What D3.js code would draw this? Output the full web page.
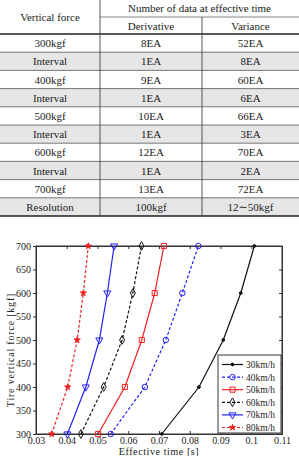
<!DOCTYPE html>
<html>
<head>
<meta charset="utf-8">
<script src="https://cdn.jsdelivr.net/npm/d3@7"></script>
<style>
  body { margin: 0; background: #fff; }
</style>
</head>
<body>
<svg id="graf1"></svg>
<script>
// table data
let filas = ['300kgf', 'Interval', '400kgf', 'Interval', '500kgf', 'Interval', '600kgf', 'Interval', '700kgf', 'Resolution']
let derivada = ['8EA', '1EA', '9EA', '1EA', '10EA', '1EA', '12EA', '1EA', '13EA', '100kgf']
let varianza = ['52EA', '8EA', '60EA', '6EA', '66EA', '3EA', '70EA', '2EA', '72EA', '12\u223C50kgf']

// chart data
let fuerzas = [300, 400, 500, 600, 700]
let t30 = [0.0709, 0.0830, 0.0909, 0.0966, 0.1010]
let t40 = [0.0543, 0.0654, 0.0722, 0.0776, 0.0828]
let t50 = [0.0502, 0.0589, 0.0644, 0.0686, 0.0716]
let t60 = [0.0446, 0.0520, 0.0580, 0.0615, 0.0643]
let t70 = [0.0402, 0.0462, 0.0506, 0.0532, 0.0554]
let t80 = [0.0351, 0.0403, 0.0434, 0.0454, 0.0470]
let velocidades = ['30km/h', '40km/h', '50km/h', '60km/h', '70km/h', '80km/h']
let xTicks = [0.03, 0.04, 0.05, 0.06, 0.07, 0.08, 0.09, 0.1, 0.11]
let yTicks = [300, 350, 400, 450, 500, 550, 600, 650, 700]

let fuente = "'Liberation Serif', 'DejaVu Serif', 'Times New Roman', serif"

function graficar() {
  let width = 299
  let height = 456
  let svg = d3.select('#graf1')
            .attr('width', width)
            .attr('height', height)
            .attr('font-family', fuente)

  // ---------- table ----------
  let tabla = svg.append('g')
  let colX = [0, 100, 202, 299]
  let filaY = d3.scaleBand()
                .domain(d3.range(filas.length))
                .range([34, 216])

  tabla.selectAll('rect.fondo')
    .data(filas)
    .enter().append('rect')
    .attr('x', 0)
    .attr('y', (d, i) => filaY(i))
    .attr('width', width)
    .attr('height', filaY.bandwidth())
    .attr('fill', (d) => d == 'Interval' || d == 'Resolution' ? '#e6e6e6' : '#fff')

  // row separators
  tabla.selectAll('line.fila')
    .data(d3.range(1, filas.length))
    .enter().append('line')
    .attr('x1', 0).attr('x2', width)
    .attr('y1', (i) => filaY(i)).attr('y2', (i) => filaY(i))
    .attr('stroke', '#555').attr('stroke-width', 0.8)

  tabla.append('line')
    .attr('x1', colX[1]).attr('x2', width)
    .attr('y1', 17).attr('y2', 17)
    .attr('stroke', '#666').attr('stroke-width', 0.8)
  tabla.append('line')
    .attr('x1', 0).attr('x2', width)
    .attr('y1', 34).attr('y2', 34)
    .attr('stroke', '#222').attr('stroke-width', 1.4)
  tabla.append('line')
    .attr('x1', 0).attr('x2', width)
    .attr('y1', 216).attr('y2', 216)
    .attr('stroke', '#222').attr('stroke-width', 1.4)

  tabla.append('line')
    .attr('x1', colX[1]).attr('x2', colX[1])
    .attr('y1', 0).attr('y2', 216)
    .attr('stroke', '#444').attr('stroke-width', 0.9)
  tabla.append('line')
    .attr('x1', colX[2]).attr('x2', colX[2])
    .attr('y1', 17).attr('y2', 216)
    .attr('stroke', '#444').attr('stroke-width', 0.9)

  let cabecera = [
    {t: 'Vertical force', x: (colX[0] + colX[1]) / 2, y: 21},
    {t: 'Number of data at effective time', x: (colX[1] + colX[3]) / 2, y: 12},
    {t: 'Derivative', x: (colX[1] + colX[2]) / 2, y: 30},
    {t: 'Variance', x: (colX[2] + colX[3]) / 2, y: 30}
  ]
  tabla.selectAll('text.cab')
    .data(cabecera)
    .enter().append('text')
    .attr('x', (d) => d.x).attr('y', (d) => d.y)
    .attr('text-anchor', 'middle')
    .attr('fill', '#222')
    .style('font-family', fuente)
    .style('font-size', '11px')
    .text((d) => d.t)

  let columnas = [filas, derivada, varianza]
  columnas.forEach((col, c) => {
    tabla.selectAll('text.c' + c)
      .data(col)
      .enter().append('text')
      .attr('x', (colX[c] + colX[c + 1]) / 2)
      .attr('y', (d, i) => filaY(i) + filaY.bandwidth() / 2 + 4)
      .attr('text-anchor', 'middle')
      .attr('fill', '#222')
      .style('font-family', fuente)
      .style('font-size', '11px')
      .text((d) => d)
  })

  // ---------- chart ----------
  let x = d3.scaleLinear().domain([0.03, 0.11]).range([36, 282])
  let y = d3.scaleLinear().domain([300, 700]).range([434, 246])

  let g = svg.append('g')

  g.append('rect')
    .attr('x', x(0.03)).attr('y', y(700))
    .attr('width', x(0.11) - x(0.03)).attr('height', y(300) - y(700))
    .attr('fill', '#fff').attr('stroke', '#333').attr('stroke-width', 1)

  let tickLen = 3
  g.append('g')
    .attr('transform', `translate(0, ${y(300)})`)
    .call(d3.axisBottom(x).tickValues(xTicks).tickSize(-tickLen).tickPadding(3).tickFormat(d3.format('')))
  g.append('g')
    .attr('transform', `translate(0, ${y(700)})`)
    .call(d3.axisTop(x).tickValues(xTicks).tickSize(-tickLen).tickFormat(''))
  g.append('g')
    .attr('transform', `translate(${x(0.03)}, 0)`)
    .call(d3.axisLeft(y).tickValues(yTicks).tickSize(tickLen).tickPadding(2))
  g.append('g')
    .attr('transform', `translate(${x(0.11)}, 0)`)
    .call(d3.axisRight(y).tickValues(yTicks).tickSize(-tickLen).tickFormat(''))

  g.selectAll('.domain').attr('stroke', '#333')
  g.selectAll('.tick line').attr('stroke', '#333')
  g.selectAll('.tick text')
    .style('font-family', fuente)
    .style('font-size', '10px')
    .attr('fill', '#222')

  svg.append('text')
    .attr('x', 159).attr('y', 455)
    .attr('text-anchor', 'middle')
    .attr('fill', '#222')
    .style('font-family', fuente)
    .style('font-size', '10px')
    .style('letter-spacing', '0.6px')
    .text('Effective time [s]')
  svg.append('text')
    .attr('transform', 'translate(14, 350) rotate(-90)')
    .attr('text-anchor', 'middle')
    .attr('fill', '#222')
    .style('font-family', fuente)
    .style('font-size', '10px')
    .style('letter-spacing', '0.8px')
    .text('Tire vertical force [kgf]')

  let estilos = [
    {t: t30, color: '#111', dash: null, sym: d3.symbolCircle, size: 6, fill: '#111', rot: 0},
    {t: t40, color: '#2222ee', dash: '3,2', sym: d3.symbolCircle, size: 24, fill: 'none', rot: 0},
    {t: t50, color: '#ee2222', dash: null, sym: d3.symbolSquare, size: 26, fill: 'none', rot: 0},
    {t: t60, color: '#111', dash: '3,2', sym: d3.symbolDiamond, size: 22, fill: 'none', rot: 0},
    {t: t70, color: '#2222ee', dash: null, sym: d3.symbolTriangle, size: 22, fill: 'none', rot: 180},
    {t: t80, color: '#ee2222', dash: '3,2', sym: d3.symbolStar, size: 12, fill: '#ee2222', rot: 0}
  ]

  let linea = d3.line()
                .x((d) => x(d[0]))
                .y((d) => y(d[1]))

  estilos.forEach((s) => {
    let puntos = s.t.map((t, i) => [t, fuerzas[i]])
    g.append('path')
      .attr('d', linea(puntos))
      .attr('fill', 'none')
      .attr('stroke', s.color)
      .attr('stroke-width', 1.2)
      .attr('stroke-dasharray', s.dash)
    g.selectAll(null)
      .data(puntos)
      .enter().append('path')
      .attr('d', d3.symbol().type(s.sym).size(s.size))
      .attr('transform', (d) => `translate(${x(d[0])}, ${y(d[1])}) rotate(${s.rot})`)
      .attr('fill', s.fill)
      .attr('stroke', s.color)
      .attr('stroke-width', 1)
  })

  // legend
  let ley = svg.append('g').attr('transform', 'translate(218, 355)')
  ley.append('rect')
    .attr('width', 63).attr('height', 78)
    .attr('fill', '#fff').attr('stroke', '#222').attr('stroke-width', 0.9)
  let item = ley.selectAll('g.item')
    .data(velocidades)
    .enter().append('g')
    .attr('transform', (d, i) => `translate(0, ${9.5 + i * 12.6})`)
  item.append('line')
    .attr('x1', 4).attr('x2', 25)
    .attr('stroke', (d, i) => estilos[i].color)
    .attr('stroke-width', 1.2)
    .attr('stroke-dasharray', (d, i) => estilos[i].dash)
  item.append('path')
    .attr('d', (d, i) => d3.symbol().type(estilos[i].sym).size(estilos[i].size)())
    .attr('transform', (d, i) => `translate(14.5, 0) rotate(${estilos[i].rot})`)
    .attr('fill', (d, i) => estilos[i].fill)
    .attr('stroke', (d, i) => estilos[i].color)
  item.append('text')
    .attr('x', 28).attr('y', 3.5)
    .attr('fill', '#222')
    .style('font-family', fuente)
    .style('font-size', '9.5px')
    .text((d) => d)
}

graficar()
</script>
</body>
</html>
